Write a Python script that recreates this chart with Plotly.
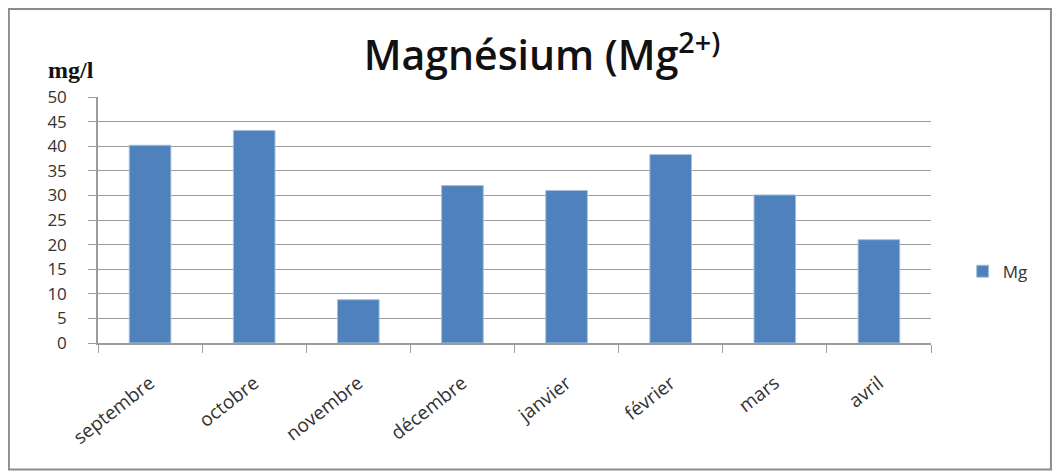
import plotly.graph_objects as go

MONTHS = ["septembre", "octobre", "novembre", "décembre", "janvier", "février", "mars", "avril"]
MG = [40.2, 43.2, 8.8, 32.0, 31.0, 38.3, 30.1, 21.0]
Y_TICKS = [0, 5, 10, 15, 20, 25, 30, 35, 40, 45, 50]

BAR = "#4F81BD"
GRID = "#9C9C9C"
TEXT = "#333333"
FONT = "Open Sans, Liberation Sans, sans-serif"

fig = go.Figure()
fig.add_trace(go.Bar(
    x=MONTHS, y=MG, name="Mg",
    marker=dict(color=BAR, line=dict(color="#A7C0DE", width=1)),
))

# the page body adds an 8px offset, so the figure is 1052x465
fig.update_layout(
    width=1052, height=465,
    paper_bgcolor="white", plot_bgcolor="white",
    margin=dict(l=90, r=129, t=89, b=130),
    bargap=0.6,
    font=dict(family=FONT, color=TEXT, size=16),
    title=dict(
        text="Magnésium (Mg<sup>2+)</sup>",
        x=0.5076, xanchor="center", xref="container",
        y=0.898, yanchor="middle",
        font=dict(size=41, color="#111111", family=FONT, weight=600),
    ),
    showlegend=True,
    legend=dict(
        x=1.038, y=0.29, xanchor="left", yanchor="middle",
        font=dict(size=17, color=TEXT), bgcolor="rgba(0,0,0,0)",
    ),
    shapes=[dict(
        type="rect", xref="paper", yref="paper",
        x0=-0.107, x1=1.144, y0=-0.514, y1=1.358,
        line=dict(color="#8C8C8C", width=2), fillcolor="rgba(0,0,0,0)", layer="below",
    )],
    annotations=[dict(
        text="<b>mg/l</b>", xref="paper", yref="paper",
        x=-0.032, y=1.11, xanchor="center", yanchor="middle", showarrow=False,
        font=dict(family="Liberation Serif, DejaVu Serif, serif", size=24, color="#111111"),
    )],
)

fig.update_xaxes(
    type="category", tickson="boundaries", ticks="outside", ticklen=8,
    tickcolor=GRID, showline=True, linecolor=GRID, linewidth=1.5,
    showgrid=False, tickangle=-38, ticklabelstandoff=20,
    tickfont=dict(size=19, color=TEXT),
)
fig.update_yaxes(
    range=[0, 50], tickvals=Y_TICKS, ticks="outside", ticklen=8, tickcolor=GRID,
    showline=True, linecolor=GRID, linewidth=1.5, showgrid=True, gridcolor=GRID,
    gridwidth=1.2, zeroline=False, ticklabelstandoff=18,
    tickfont=dict(size=17, color=TEXT),
)

fig.write_html("out.html")
